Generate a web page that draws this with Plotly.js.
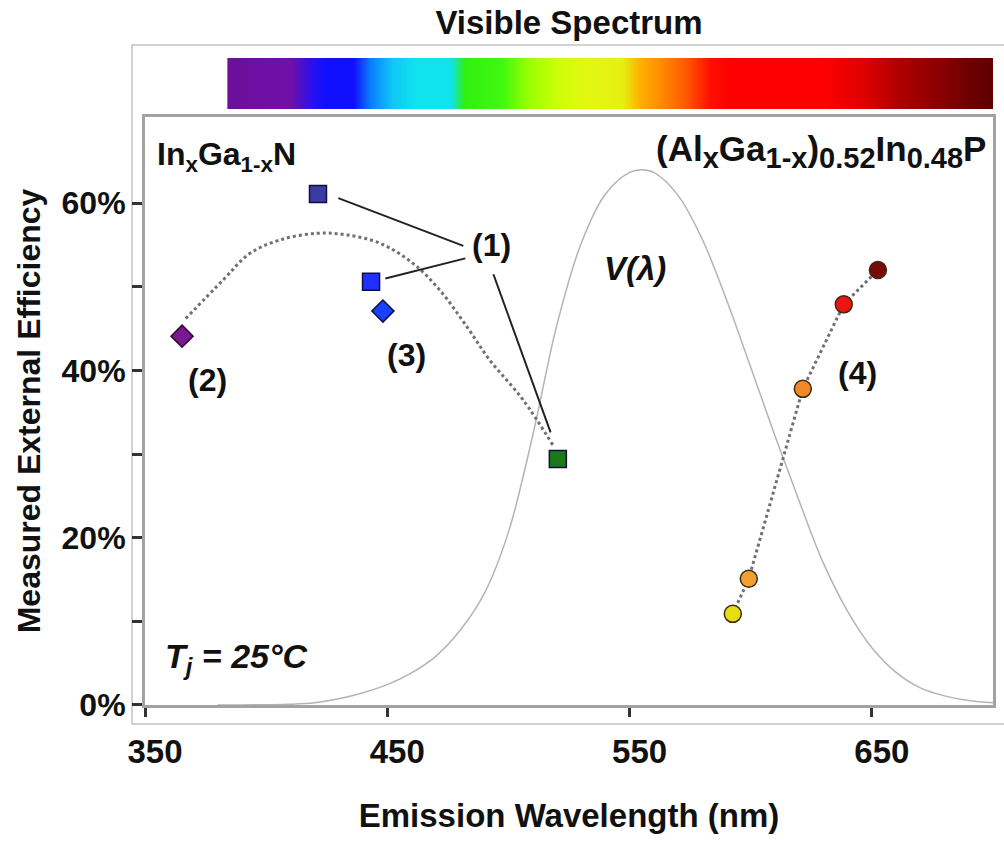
<!DOCTYPE html>
<html>
<head>
<meta charset="utf-8">
<script src="https://cdn.plot.ly/plotly-3.0.1.min.js"></script>
<style>html,body{margin:0;padding:0;background:#fff;}#chart{width:1004px;height:841px;}</style>
</head>
<body>
<div id="chart"></div>
<script>
// ---- data ----
// (1) InGaN LEDs (squares)
const g1Nm  = [421.4, 443.3, 520.4];
const g1Pct = [61.1, 50.6, 29.4];
const g1Colors = ['#3b3ba6', '#1f30ff', '#1a7a1a'];
// (2) InGaN (purple diamond)
const g2Nm  = [365.3];
const g2Pct = [44.1];
// (3) InGaN (blue diamond)
const g3Nm  = [448.2];
const g3Pct = [47.1];
// (4) AlGaInP (circles)
const g4Nm  = [592.6, 599.2, 621.5, 638.4, 652.5];
const g4Pct = [10.9, 15.1, 37.8, 47.9, 52.0];
const g4Colors = ['#e6de10', '#f0a030', '#f08828', '#ee1515', '#780a0a'];
// dotted trend through the InGaN points
const trendNm  = [366.8, 382.2, 393.3, 405.7, 421.0, 433.4, 447.0, 460.6, 471.7, 482.9, 492.4, 506.0, 518.5];
const trendPct = [46.2, 50.8, 54.0, 55.6, 56.4, 56.2, 55.2, 52.8, 49.6, 45.2, 41.2, 36.5, 31.0];
// V(lambda) eye sensitivity curve as drawn (percent units of the plot)
const vNm  = [380, 390, 400, 410, 420, 430, 440, 450, 460, 470, 480, 490, 500, 510, 520, 530, 540, 550, 555, 560, 570, 580, 590, 600, 610, 620, 630, 640, 650, 660, 670, 680, 690, 700];
const vPct = [0.0, 0.01, 0.03, 0.08, 0.26, 0.74, 1.47, 2.43, 3.84, 5.82, 8.90, 13.31, 20.67, 32.19, 45.44, 55.17, 61.06, 63.68, 64.0, 63.68, 60.93, 55.68, 48.45, 40.38, 32.19, 24.38, 16.96, 11.20, 6.85, 3.90, 2.05, 1.09, 0.53, 0.26];
// leader lines for label (1): near end (at marker) and far end (at label)
const leadHeadNm  = [429.8, 449.2, 517.4];
const leadHeadPct = [60.6, 51.0, 32.6];
const leadTailNm  = [481.4, 482.2, 493.8];
const leadTailPct = [54.9, 53.4, 51.5];
// visible spectrum colour stops
const specNm = [385, 387, 410, 418, 424, 436, 443, 452, 461, 476, 482, 497, 508, 519, 531, 547, 554, 563, 573, 583, 591, 630, 646, 661, 679, 693, 700];
const specColors = ['#6c0f9c', '#6c0f9c', '#7010a8', '#3010e8', '#1010ff', '#1010ff', '#0a80ff', '#10c8f5', '#10e2ee', '#10e2ee', '#30f010', '#40f810', '#98ff00', '#c8ff08', '#e2f810', '#e6f010', '#ffb000', '#ff8a00', '#ff5a00', '#ff1000', '#ff0000', '#ff0000', '#e00000', '#b00000', '#880000', '#680000', '#600000'];
// ticks
const xTickVals = [350, 450, 550, 650];
const xTickText = ['350', '450', '550', '650'];
const yTickVals = [0, 20, 40, 60];
const yTickText = ['0%', '20%', '40%', '60%'];
const yMinorVals = [10, 30, 50];

// ---- build ----
const FONT = 'Liberation Sans, Arial, Helvetica, sans-serif';
const specMin = specNm[0], specMax = specNm[specNm.length - 1];
const specScale = specNm.map((w, i) => [(w - specMin) / (specMax - specMin), specColors[i]]);

const traces = [
  { x: vNm, y: vPct, type: 'scatter', mode: 'lines', line: { color: '#b4b4b4', width: 1.5, shape: 'spline' }, hoverinfo: 'skip' },
  { x: trendNm, y: trendPct, type: 'scatter', mode: 'lines', line: { color: '#707070', width: 3, dash: 'dot', shape: 'spline', smoothing: 1 }, hoverinfo: 'skip' }
];
g1Nm.forEach((nm, i) => {
  traces.push({ x: [leadTailNm[i], leadHeadNm[i]], y: [leadTailPct[i], leadHeadPct[i]], type: 'scatter', mode: 'lines',
    line: { color: '#222', width: 2 }, hoverinfo: 'skip' });
});
traces.push(
  { x: g4Nm, y: g4Pct, type: 'scatter', mode: 'lines+markers',
    line: { color: '#707070', width: 3, dash: 'dot' },
    marker: { symbol: 'circle', size: 17, color: g4Colors, line: { color: '#3a2a10', width: 1.5 } } },
  { x: g1Nm, y: g1Pct, type: 'scatter', mode: 'markers',
    marker: { symbol: 'square', size: 17, color: g1Colors, line: { color: '#101040', width: 1.5 } } },
  { x: g2Nm, y: g2Pct, type: 'scatter', mode: 'markers',
    marker: { symbol: 'diamond', size: 17, color: '#7a1890', line: { color: '#300838', width: 1.5 } } },
  { x: g3Nm, y: g3Pct, type: 'scatter', mode: 'markers',
    marker: { symbol: 'diamond', size: 17, color: '#1a40ff', line: { color: '#081040', width: 1.5 } } },
  { x: specNm, y: [0, 1], z: [specNm, specNm], type: 'heatmap', xaxis: 'x', yaxis: 'y2',
    colorscale: specScale, zmin: specMin, zmax: specMax, zsmooth: 'best', showscale: false, hoverinfo: 'skip' }
);

const big = { family: FONT, size: 32, color: '#111', weight: 700 };
const sub = s => '<sub><span style="font-size:29px">' + s + '</span></sub>';
const ann = [
  { x: 354.1, y: 65.6, xanchor: 'left', text: 'In<sub>x</sub>Ga<sub>1-x</sub>N' },
  { x: 698.0, y: 66.2, xanchor: 'right', text: '(Al' + sub('x') + 'Ga' + sub('1-x') + ')' + sub('0.52') + 'In' + sub('0.48') + 'P',
    font: { family: FONT, size: 35, color: '#111', weight: 700 } },
  { x: 493.0, y: 55.0, text: '(1)' },
  { x: 376.0, y: 38.8, text: '(2)' },
  { x: 457.9, y: 41.8, text: '(3)' },
  { x: 644.2, y: 39.7, text: '(4)' },
  { x: 552.1, y: 52.2, text: 'V(λ)', font: { family: FONT, size: 33, color: '#111', weight: 700, style: 'italic' } },
  { x: 357.5, y: 5.6, xanchor: 'left', text: 'T<sub>j</sub> = 25°C', font: { family: FONT, size: 34, color: '#111', weight: 700, style: 'italic' } }
].map(a => Object.assign({ xref: 'x', yref: 'y', showarrow: false, yanchor: 'middle', font: big }, a));

const layout = {
  width: 1004, height: 841,
  margin: { l: 145, r: 11, t: 58, b: 136 },
  paper_bgcolor: '#fff', plot_bgcolor: '#fff',
  showlegend: false,
  font: { family: FONT, color: '#111' },
  title: { text: 'Visible Spectrum', xref: 'paper', x: 0.5, xanchor: 'center', yref: 'container', y: 1 - 22 / 841, yanchor: 'middle',
    font: { family: FONT, size: 33, color: '#111', weight: 700 } },
  xaxis: {
    range: [350, 700], showgrid: false, zeroline: false,
    showline: true, linecolor: '#a2a2a2', linewidth: 3, mirror: true,
    tickmode: 'array', tickvals: xTickVals, ticktext: xTickText,
    ticks: 'outside', ticklen: 9, tickwidth: 3, tickcolor: '#333',
    ticklabelstandoff: 6, ticklabelshift: 10,
    tickfont: { family: FONT, size: 33, color: '#111', weight: 700 },
    title: { text: 'Emission Wavelength (nm)', standoff: 36, font: { family: FONT, size: 33, color: '#111', weight: 700 } }
  },
  yaxis: {
    domain: [0, 0.9088], range: [0, 70.3], showgrid: false, zeroline: false,
    showline: true, linecolor: '#a2a2a2', linewidth: 3, mirror: true,
    tickmode: 'array', tickvals: yTickVals, ticktext: yTickText,
    ticks: 'outside', ticklen: 10, tickwidth: 3, tickcolor: '#333',
    minor: { tickmode: 'array', tickvals: yMinorVals, ticks: 'outside', ticklen: 10, tickwidth: 3, tickcolor: '#333', showgrid: false },
    tickfont: { family: FONT, size: 32, color: '#111', weight: 700 },
    title: { text: 'Measured External Efficiency', standoff: 12, font: { family: FONT, size: 32, color: '#111', weight: 700 } }
  },
  yaxis2: { domain: [0.9212, 1], range: [-0.5, 1.5], showgrid: false, zeroline: false, showline: false, showticklabels: false, ticks: '', fixedrange: true },
  shapes: [
    { type: 'rect', xref: 'paper', yref: 'paper', x0: -0.0153, x1: 1.03, y0: -0.0294, y1: 1.0201, line: { color: '#c4c4c4', width: 1.5 }, fillcolor: 'rgba(0,0,0,0)', layer: 'below' }
  ],
  annotations: ann
};

Plotly.newPlot('chart', traces, layout, { staticPlot: true, displayModeBar: false });
</script>
</body>
</html>
